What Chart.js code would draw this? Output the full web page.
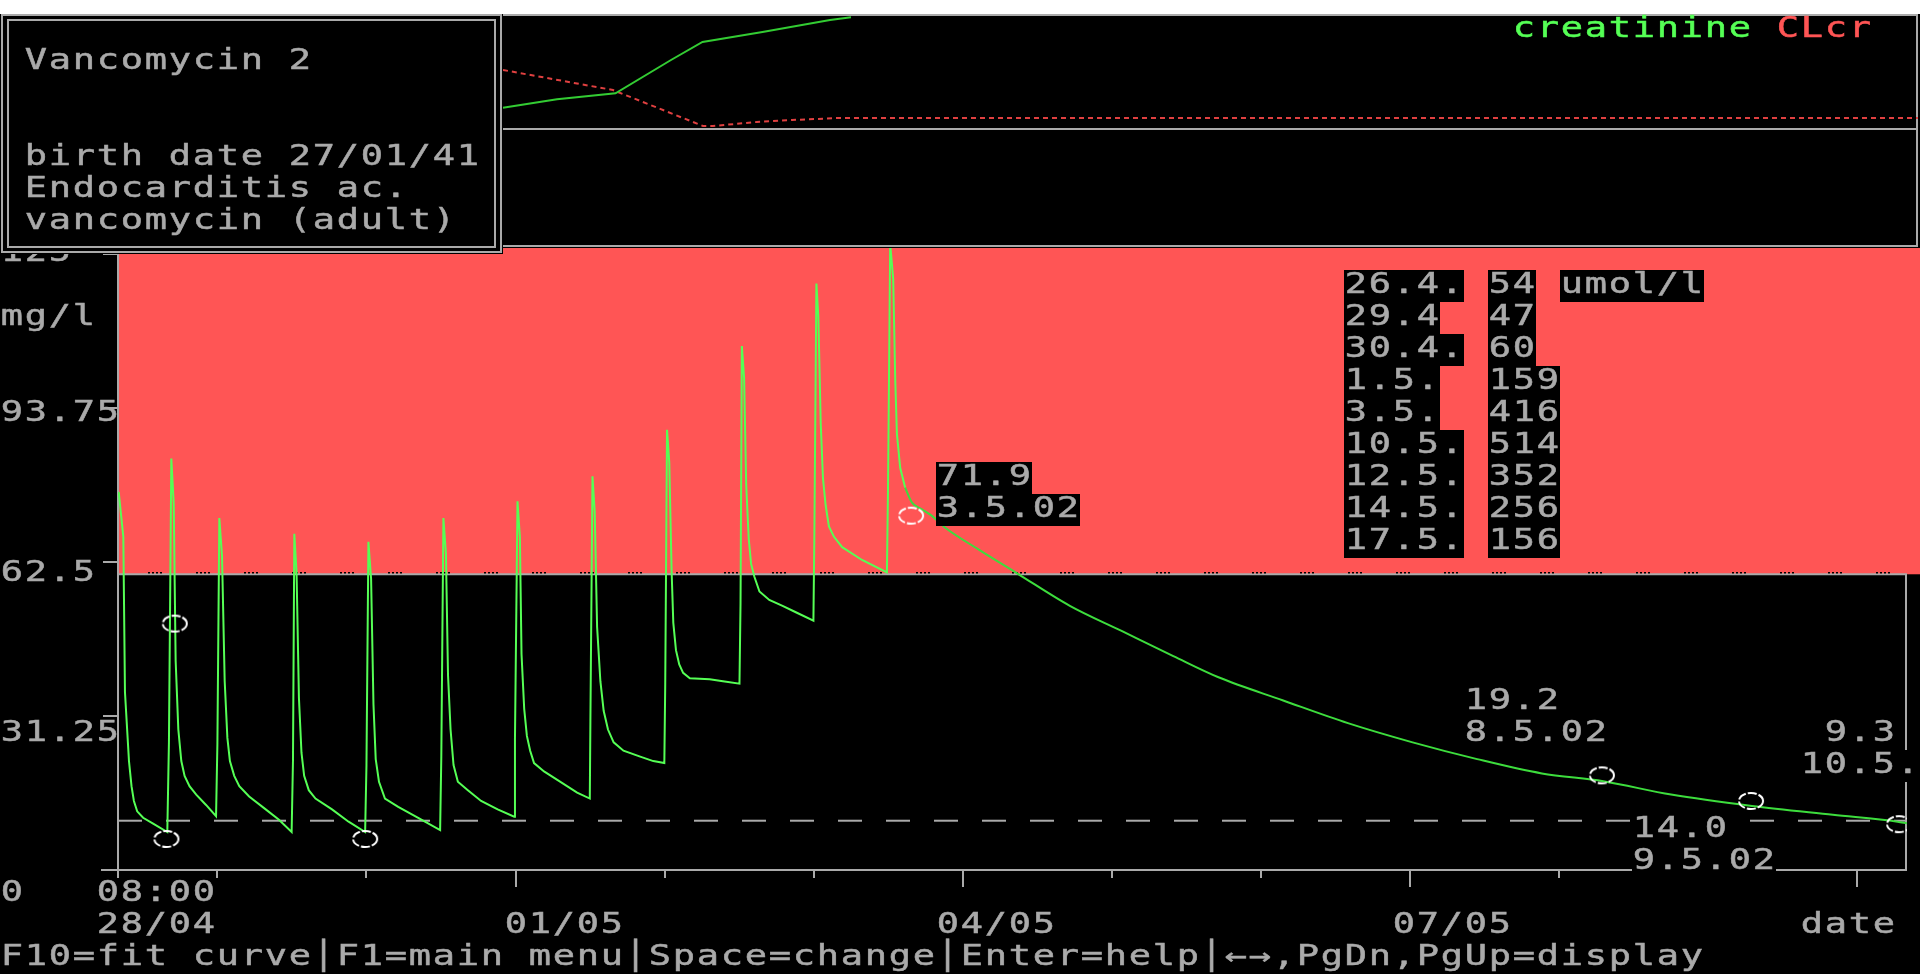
<!DOCTYPE html>
<html>
<head>
<meta charset="utf-8">
<title>Vancomycin 2</title>
<script src="https://cdn.jsdelivr.net/npm/chart.js@4.4.1/dist/chart.umd.min.js"></script>
<style>
  html, body { margin: 0; padding: 0; background: #000; overflow: hidden; }
  #strip { position: absolute; left: 0; top: 0; width: 1920px; height: 14px; background: #fff; }
  canvas { position: absolute; left: 0; top: 0; }
</style>
</head>
<body>
<div id="strip"></div>
<canvas id="trend" width="1920" height="974"></canvas>
<canvas id="levels" width="1920" height="974"></canvas>
<script>
// time axis: days since 28/04/02 00:00
// serum vancomycin (mg/l), 12-hourly doses
const concDays = [
  0.338, 0.369, 0.380, 0.407, 0.424, 0.440, 0.462, 0.502, 0.569, 0.664,
  0.675, 0.691, 0.707, 0.720, 0.738, 0.758, 0.780, 0.813, 0.858, 0.924, 0.991,
  1.000, 1.013, 1.031, 1.049, 1.067, 1.084, 1.113, 1.147, 1.213, 1.324, 1.413, 1.498,
  1.507, 1.516, 1.531, 1.547, 1.564, 1.582, 1.613, 1.658, 1.769, 1.880, 1.991,
  2.000, 2.013, 2.031, 2.047, 2.062, 2.084, 2.124, 2.213, 2.347, 2.494,
  2.502, 2.516, 2.533, 2.547, 2.564, 2.584, 2.613, 2.680, 2.769, 2.880, 2.991,
  2.996, 3.013, 3.029, 3.040, 3.058, 3.076, 3.098, 3.124, 3.191, 3.280, 3.413, 3.498,
  3.502, 3.516, 3.531, 3.547, 3.569, 3.591, 3.620, 3.658, 3.724, 3.836, 3.924, 3.998,
  4.004, 4.016, 4.031, 4.047, 4.058, 4.076, 4.098, 4.124, 4.169, 4.302, 4.391, 4.502,
  4.509, 4.518, 4.533, 4.547, 4.564, 4.580, 4.602, 4.636, 4.702, 4.791, 4.880, 4.998,
  5.004, 5.018, 5.031, 5.047, 5.062, 5.080, 5.102, 5.136, 5.191, 5.324, 5.491,
  5.498, 5.513, 5.533, 5.547, 5.558, 5.580, 5.613
];
const concLevels = [
  76.7, 67.6, 36.1, 22.1, 17.0, 14.0, 11.9, 10.6, 9.4, 7.7,
  25.9, 83.5, 74.4, 42.5, 28.5, 22.1, 19.1, 17.0, 15.3, 13.2, 10.9,
  25.5, 71.4, 63.8, 38.3, 26.8, 22.1, 19.1, 17.0, 14.9, 12.3, 10.2, 7.7,
  22.1, 68.2, 60.4, 34.9, 23.8, 19.1, 16.2, 14.5, 12.3, 9.8, 7.7,
  21.3, 66.6, 59.1, 33.6, 22.5, 17.9, 14.5, 12.8, 10.6, 8.1,
  23.0, 71.4, 64.2, 39.5, 28.5, 21.3, 17.9, 16.2, 14.0, 12.3, 10.8,
  26.4, 74.8, 67.6, 43.8, 32.7, 27.2, 24.2, 21.7, 20.0, 18.3, 15.7, 14.5,
  30.2, 79.9, 72.7, 49.3, 38.3, 32.3, 28.5, 25.9, 24.2, 23.0, 22.1, 21.7,
  37.8, 89.3, 82.7, 60.4, 50.2, 44.6, 41.7, 40.0, 38.9, 38.7, 38.3, 37.8,
  54.0, 106.3, 99.9, 78.2, 67.2, 62.1, 59.5, 56.5, 54.8, 53.6, 52.3, 50.6,
  67.2, 119.0, 112.2, 90.6, 79.5, 74.0, 69.7, 67.6, 65.5, 62.9, 60.4,
  76.5, 127.0, 120.0, 99.2, 88.5, 81.6, 77.6
];
// elimination after the last dose
const tailDays = [
  5.613, 5.658, 5.725, 5.791, 5.880, 6.102, 6.369, 6.718, 7.065, 7.412, 7.715,
  8.149, 8.583, 9.017, 9.450, 9.884, 10.296, 10.751, 11.293, 11.836, 12.270, 12.333
];
const tailLevels = [
  77.6, 74.6, 73.2, 71.9, 69.5, 65.1, 60.1, 53.6, 48.5, 43.4, 39.1,
  34.4, 29.8, 25.9, 22.5, 19.6, 18.0, 15.3, 13.0, 11.2, 9.8, 9.5
];

// measured levels
const sampleDays = [0.658, 0.714, 1.991, 5.653, 10.287, 11.287, 12.28];
const sampleLevels = [6.3, 50.0, 6.3, 71.9, 19.2, 14.0, 9.3];
// text cell (col, row) of the value tag, null = no tag
const tagCells = [null, null, null, [39, 14], [61, 21], [68, 25], [75, 22]];

// creatinine / CLcr trend strip (relative scale 0-100)
const creatDays = [2.90, 3.26, 3.65, 4.02, 4.23, 4.63, 5.08, 5.22];
const creatTrend = [18.1, 25.6, 31.0, 60.7, 76.8, 85.7, 96.4, 98.8];
const clcrDays = [2.90, 3.633, 4.233, 4.30, 4.593, 4.827, 5.127, 12.333];
const clcrTrend = [51.8, 33.9, 1.8, 1.8, 5.4, 7.1, 8.9, 8.9];

// creatinine lab results
const labDates = ['26.4.', '29.4', '30.4.', '1.5.', '3.5.', '10.5.', '12.5.', '14.5.', '17.5.'];
const labCreatinine = [54, 47, 60, 159, 416, 514, 352, 256, 156];

const yTickValues = [0, 31.25, 62.5, 93.75, 125];
const yTickLabels = ['0', '31.25', '62.5', '93.75', '125'];
const xTickDays = [3, 6, 9];
const xTickLabels = ['01/05', '04/05', '07/05'];

const toxicLevel = 60;
const troughLevel = 10;

const W = 1920;
const CW = 24, RH = 32, TOP = 14;   // text grid: 80 x 30 cells
const GRAY = '#aaaaaa', RED = '#ff5555', GREEN = '#55ff55';
const DAY0 = 1 / 3, DAYN = 12 + 1 / 3;

// text-mode style writer, one glyph per cell
function put(ctx, str, col, row, fg, bg) {
  ctx.save();
  ctx.font = '28px "DejaVu Sans Mono"';
  ctx.textAlign = 'center';
  ctx.textBaseline = 'alphabetic';
  [...str].forEach((ch, i) => {
    if (ch === ' ') return;
    const cx = (col + i) * CW, cy = TOP + row * RH;
    if (bg) { ctx.fillStyle = bg; ctx.fillRect(cx, cy, CW, RH); }
    ctx.save();
    ctx.translate(cx + CW / 2, cy + 23);
    ctx.scale(1.32, 1);
    ctx.fillStyle = fg;
    ctx.strokeStyle = fg;
    ctx.lineWidth = 0.5;
    ctx.fillText(ch, 0, 0);
    ctx.strokeText(ch, 0, 0);
    ctx.restore();
  });
  ctx.restore();
}

function line(ctx, x1, y1, x2, y2) {
  ctx.beginPath();
  ctx.moveTo(x1, y1);
  ctx.lineTo(x2, y2);
  ctx.stroke();
}

const textRow = py => Math.ceil((py - TOP) / RH - 0.5);
const textCol = px => Math.round(px / CW - 0.9);

function dateTag(day) {
  const d = new Date(2002, 3, 28 + Math.floor(day));
  return d.getDate() + '.' + (d.getMonth() + 1) + '.02';
}

// sample ring
function ring() {
  const c = document.createElement('canvas');
  c.width = 30; c.height = 22;
  const g = c.getContext('2d');
  g.strokeStyle = '#fff';
  g.lineWidth = 2;
  g.setLineDash([9, 2]);
  g.beginPath();
  g.ellipse(15, 11, 12, 8, 0, 0, Math.PI * 2);
  g.stroke();
  return c;
}

// ---- trend strip ----
const stripFrame = {
  id: 'stripFrame',
  beforeDatasetsDraw(chart) {
    const ctx = chart.ctx;
    ctx.save();
    ctx.strokeStyle = GRAY;
    ctx.lineWidth = 2;
    line(ctx, 0, 15, 1918, 15);
    line(ctx, 0, 129, 1918, 129);
    line(ctx, 0, 246, 1918, 246);
    line(ctx, 1917, 14, 1917, 247);
    ctx.restore();
  }
};

new Chart(document.getElementById('trend'), {
  type: 'line',
  data: {
    datasets: [
      {
        label: 'creatinine',
        data: creatDays.map((d, i) => ({ x: d, y: creatTrend[i] })),
        borderColor: '#33cc33',
        borderWidth: 2,
        pointRadius: 0,
        tension: 0
      },
      {
        label: 'CLcr',
        data: clcrDays.map((d, i) => ({ x: d, y: clcrTrend[i] })),
        borderColor: '#e04040',
        borderWidth: 2,
        borderDash: [5, 4],
        pointRadius: 0,
        tension: 0
      }
    ]
  },
  options: {
    responsive: false,
    animation: false,
    devicePixelRatio: 1,
    layout: { padding: { left: 118, right: 2, top: 16, bottom: 846 } },
    scales: {
      x: { type: 'linear', min: DAY0, max: DAYN, display: false },
      y: { min: 0, max: 100, display: false }
    },
    plugins: { legend: { display: false }, tooltip: { enabled: false } }
  },
  plugins: [stripFrame]
});

// ---- level plot ----
const screen = {
  id: 'screen',
  beforeDatasetsDraw(chart) {
    const { ctx, chartArea: a, scales: { x, y } } = chart;
    const yTox = y.getPixelForValue(toxicLevel);
    const yTr = y.getPixelForValue(troughLevel);
    ctx.save();
    // toxic band
    ctx.fillStyle = RED;
    ctx.fillRect(a.left + 1, a.top, W - a.left - 1, yTox - a.top);
    ctx.strokeStyle = GRAY;
    ctx.lineWidth = 2;
    line(ctx, a.left, yTox, a.right, yTox);
    ctx.strokeStyle = '#000';
    ctx.lineWidth = 1.5;
    ctx.setLineDash([2, 2, 2, 2, 2, 2, 2, 34]);
    line(ctx, a.left + 30, yTox - 1.5, a.right, yTox - 1.5);
    // trough target
    ctx.strokeStyle = GRAY;
    ctx.lineWidth = 2;
    ctx.setLineDash([24, 24]);
    line(ctx, a.left, yTr, a.right, yTr);
    ctx.setLineDash([]);
    // axes
    line(ctx, a.left, a.top, a.left, a.bottom);
    line(ctx, 101, a.bottom, a.right, a.bottom);
    line(ctx, a.right - 1, yTox, a.right - 1, a.bottom);
    line(ctx, a.left, a.bottom, a.left, a.bottom + 8);
    for (let d = 1; d <= 12; d++) {
      const px = Math.round(x.getPixelForValue(d));
      line(ctx, px, a.bottom, px, a.bottom + (d % 3 ? 8 : 17));
    }
    yTickValues.forEach(v => {
      const py = Math.round(y.getPixelForValue(v));
      line(ctx, 103, py, a.left, py);
    });
    ctx.restore();
  },
  afterDraw(chart) {
    const { ctx, scales: { x, y } } = chart;
    // y labels
    yTickValues.forEach((v, i) => put(ctx, yTickLabels[i], 0, textRow(y.getPixelForValue(v)), GRAY));
    put(ctx, 'mg/l', 0, 9, GRAY);

    // patient box
    ctx.save();
    ctx.fillStyle = '#000';
    ctx.fillRect(0, 14, 503, 240);
    ctx.strokeStyle = GRAY;
    ctx.lineWidth = 2;
    ctx.strokeRect(2, 15, 499, 237);
    ctx.strokeRect(8, 20, 487, 227);
    ctx.restore();
    put(ctx, 'Vancomycin 2', 1, 1, GRAY);
    put(ctx, 'birth date 27/01/41', 1, 4, GRAY);
    put(ctx, 'Endocarditis ac.', 1, 5, GRAY);
    put(ctx, 'vancomycin (adult)', 1, 6, GRAY);

    // strip legend
    put(ctx, 'creatinine', 63, 0, GREEN);
    put(ctx, 'CLcr', 74, 0, RED);

    // creatinine results
    labDates.forEach((d, i) => {
      put(ctx, d, 56, 8 + i, GRAY, '#000');
      put(ctx, String(labCreatinine[i]), 62, 8 + i, GRAY, '#000');
    });
    put(ctx, 'umol/l', 65, 8, GRAY, '#000');

    // sample tags
    sampleDays.forEach((d, i) => {
      const cell = tagCells[i];
      if (!cell) return;
      put(ctx, sampleLevels[i].toFixed(1).padStart(4), cell[0], cell[1], GRAY, '#000');
      put(ctx, dateTag(d), cell[0], cell[1] + 1, GRAY, '#000');
    });

    // x labels
    const c0 = textCol(x.getPixelForValue(DAY0));
    put(ctx, '08:00', c0, 27, GRAY);
    put(ctx, '28/04', c0, 28, GRAY);
    xTickDays.forEach((d, i) => put(ctx, xTickLabels[i], textCol(x.getPixelForValue(d)), 28, GRAY));
    put(ctx, 'date', 75, 28, GRAY);

    // key line
    put(ctx, 'F10=fit curve\u2502F1=main menu\u2502Space=change\u2502Enter=help\u2502\u2190\u2192,PgDn,PgUp=display', 0, 29, GRAY);
  }
};

new Chart(document.getElementById('levels'), {
  type: 'line',
  data: {
    datasets: [
      {
        label: 'samples',
        data: sampleDays.map((d, i) => ({ x: d, y: sampleLevels[i] })),
        showLine: false,
        pointStyle: ring(),
        pointRadius: 12,
        order: 0
      },
      {
        label: 'vancomycin',
        data: concDays.map((d, i) => ({ x: d, y: concLevels[i] })),
        borderColor: GREEN,
        borderWidth: 2,
        pointRadius: 0,
        tension: 0,
        order: 1
      },
      {
        label: 'elimination',
        data: tailDays.map((d, i) => ({ x: d, y: tailLevels[i] })),
        borderColor: '#3ddd3d',
        borderWidth: 2,
        pointRadius: 0,
        cubicInterpolationMode: 'monotone',
        order: 1
      }
    ]
  },
  options: {
    responsive: false,
    animation: false,
    devicePixelRatio: 1,
    layout: { padding: { left: 118, right: 2, top: 248, bottom: 104 } },
    scales: {
      x: { type: 'linear', min: DAY0, max: DAYN, display: false },
      y: { min: 0, max: 126.2, display: false }
    },
    plugins: { legend: { display: false }, tooltip: { enabled: false } }
  },
  plugins: [screen]
});
</script>
</body>
</html>
